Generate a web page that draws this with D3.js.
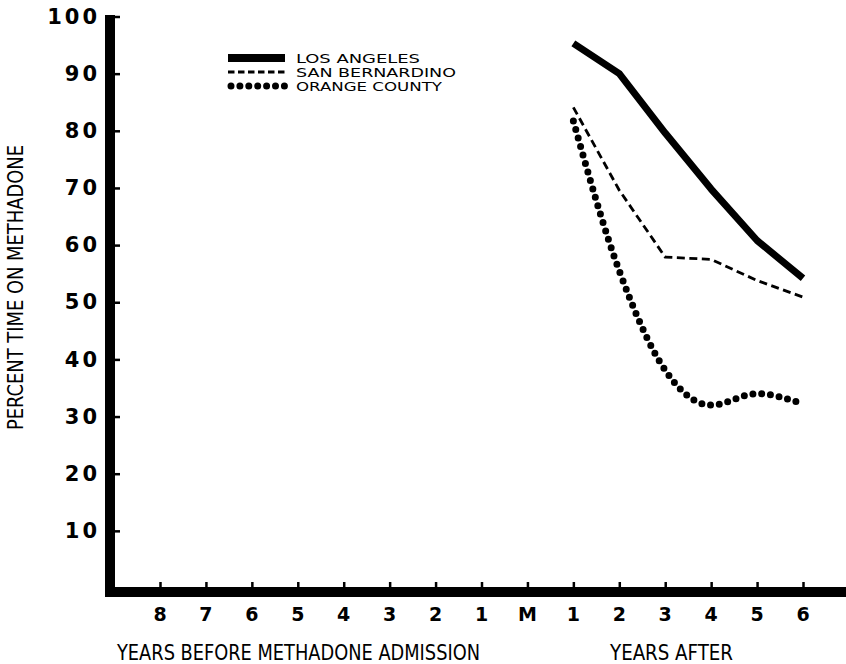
<!DOCTYPE html>
<html>
<head>
<meta charset="utf-8">
<script src="https://cdn.jsdelivr.net/npm/d3@7"></script>
<style>
  body { margin: 0; background: #fff; }
  .tick text { font-family: 'DejaVu Sans', sans-serif; font-weight: bold; fill: #000; }
  .y-axis .tick text { font-size: 21px; letter-spacing: 3px; }
  .x-axis .tick text { font-size: 19px; letter-spacing: 1px; }
  .narrow { font-family: 'DejaVu Sans Condensed', 'Liberation Sans Narrow', sans-serif; fill: #000; }
</style>
</head>
<body>
<svg width="846" height="664"></svg>
<script>
const width = 846,
  height = 664;
const svg = d3.select('svg');

// Values (years after methadone admission)
const years = [1, 2, 3, 4, 5, 6];
const losAngeles = [95.3, 90, 79.6, 69.8, 60.8, 54.2];
const sanBernardino = [84.1, 69.6, 57.9, 57.5, 53.8, 50.9];
const orangeCounty = [81.7, 55.5, 38.1, 32.0, 34.0, 32.2];

const xTicks = [-8, -7, -6, -5, -4, -3, -2, -1, 0, 1, 2, 3, 4, 5, 6];
const yTicks = [10, 20, 30, 40, 50, 60, 70, 80, 90, 100];

const series = [
  { name: 'LOS ANGELES', values: losAngeles, width: 7, dash: null, cap: 'butt', curve: d3.curveLinear, legendWidth: 8, legendLen: 124 },
  { name: 'SAN BERNARDINO', values: sanBernardino, width: 2.8, dash: '8 4.5', cap: 'butt', curve: d3.curveLinear, legendWidth: 3, legendLen: 160 },
  { name: 'ORANGE COUNTY', values: orangeCounty, width: 7, dash: '0 8.8', cap: 'round', curve: d3.curveMonotoneX, legendWidth: 7, legendLen: 146 },
];

const x = d3.scaleLinear().domain([-8, 6]).range([160, 803]);
const y = d3.scaleLinear().domain([0, 100]).range([588, 16.5]);

// Y axis: labels on the left, short ticks pointing into the plot
svg
  .append('g')
  .attr('class', 'y-axis')
  .attr('transform', 'translate(115,0)')
  .call(d3.axisLeft(y).tickValues(yTicks).tickSize(-5).tickPadding(15))
  .call((g) => g.select('.domain').remove())
  .call((g) => g.selectAll('.tick line').attr('stroke', '#000').attr('stroke-width', 2.5));

// X axis
svg
  .append('g')
  .attr('class', 'x-axis')
  .attr('transform', 'translate(0,587)')
  .call(
    d3
      .axisBottom(x)
      .tickValues(xTicks)
      .tickSize(-5)
      .tickPadding(21)
      .tickFormat((d) => (d === 0 ? 'M' : Math.abs(d)))
  )
  .call((g) => g.select('.domain').remove())
  .call((g) => g.selectAll('.tick line').attr('stroke', '#000').attr('stroke-width', 2.5));

// Heavy axis lines
svg.append('line')
  .attr('x1', 110).attr('x2', 110).attr('y1', 15).attr('y2', 597)
  .attr('stroke', '#000').attr('stroke-width', 10);
svg.append('line')
  .attr('x1', 105).attr('x2', width).attr('y1', 592).attr('y2', 592)
  .attr('stroke', '#000').attr('stroke-width', 10);

// Data lines
series.forEach((s) => {
  const line = d3
    .line()
    .x((d, i) => x(years[i]))
    .y((d) => y(d))
    .curve(s.curve);
  svg
    .append('path')
    .datum(s.values)
    .attr('fill', 'none')
    .attr('stroke', '#000')
    .attr('stroke-width', s.width)
    .attr('stroke-linecap', s.cap)
    .attr('stroke-linejoin', 'round')
    .attr('stroke-dasharray', s.dash)
    .attr('d', line);
});

// Legend
const legend = svg.append('g').attr('transform', 'translate(228,58)');
series.forEach((s, i) => {
  const ly = i * 14;
  legend
    .append('line')
    .attr('x1', s.cap === 'round' ? 3 : 0)
    .attr('x2', 57)
    .attr('y1', ly)
    .attr('y2', ly)
    .attr('stroke', '#000')
    .attr('stroke-width', s.legendWidth)
    .attr('stroke-linecap', s.cap)
    .attr('stroke-dasharray', s.dash ? (s.cap === 'round' ? '0 8.9' : '6.5 3.5') : null);
  legend
    .append('text')
    .attr('class', 'narrow')
    .attr('x', 68)
    .attr('y', ly + 5)
    .attr('font-size', 13)
    .attr('textLength', s.legendLen)
    .attr('lengthAdjust', 'spacingAndGlyphs')
    .text(s.name);
});

// Axis titles
svg.append('text')
  .attr('class', 'narrow')
  .attr('x', 117).attr('y', 660)
  .attr('font-size', 21)
  .attr('textLength', 363)
  .attr('lengthAdjust', 'spacingAndGlyphs')
  .text('YEARS BEFORE METHADONE ADMISSION');

svg.append('text')
  .attr('class', 'narrow')
  .attr('x', 610).attr('y', 660)
  .attr('font-size', 21)
  .attr('textLength', 123)
  .attr('lengthAdjust', 'spacingAndGlyphs')
  .text('YEARS AFTER');

svg.append('text')
  .attr('class', 'narrow')
  .attr('transform', 'translate(23,430) rotate(-90)')
  .attr('font-size', 21)
  .attr('textLength', 285)
  .attr('lengthAdjust', 'spacingAndGlyphs')
  .text('PERCENT TIME ON METHADONE');
</script>
</body>
</html>
